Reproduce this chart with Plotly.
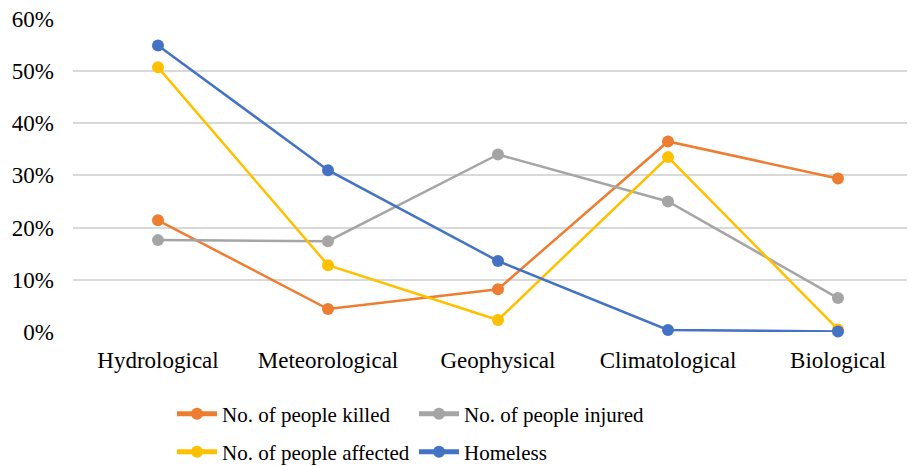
import plotly.graph_objects as go

categories = ['Hydrological', 'Meteorological', 'Geophysical', 'Climatological', 'Biological']
killed = [0.214, 0.044, 0.082, 0.365, 0.294]
injured = [0.176, 0.174, 0.340, 0.250, 0.065]
affected = [0.507, 0.128, 0.023, 0.335, 0.005]
homeless = [0.549, 0.310, 0.136, 0.004, 0.001]

series = [
    ('No. of people killed', killed, '#ED7D31', 'legend'),
    ('No. of people injured', injured, '#A5A5A5', 'legend'),
    ('No. of people affected', affected, '#FFC000', 'legend2'),
    ('Homeless', homeless, '#4472C4', 'legend2'),
]

font = 'Liberation Serif, Times New Roman, serif'

# page body has an 8px margin, so the figure is a bit smaller than the window
W, H = 907, 458

fig = go.Figure()
for name, vals, color, leg in series:
    fig.add_trace(go.Scatter(
        x=categories, y=vals, name=name, mode='lines+markers',
        line=dict(color=color, width=2.5),
        marker=dict(color=color, size=12),
        cliponaxis=False, legend=leg
    ))

legend_style = dict(
    orientation='h', xref='container', yref='container',
    yanchor='middle', xanchor='left',
    font=dict(family=font, size=21, color='#000000'),
    entrywidth=187, itemwidth=40, bgcolor='rgba(0,0,0,0)',
    tracegroupgap=0, itemsizing='constant'
)

fig.update_layout(
    width=W, height=H,
    margin=dict(l=65, r=0, t=10, b=134, autoexpand=False),
    paper_bgcolor='white', plot_bgcolor='white',
    font=dict(family=font, size=23, color='#000000'),
    xaxis=dict(
        type='category', range=[-0.5, 4.453], automargin=False,
        showgrid=False, showline=False, ticks='',
        ticklabelstandoff=12,
        tickfont=dict(family=font, size=23, color='#000000')
    ),
    yaxis=dict(
        range=[0, 0.6015], tickvals=[0, 0.1, 0.2, 0.3, 0.4, 0.5, 0.6],
        tickformat='.0%', automargin=False, ticklabeloverflow='allow',
        showgrid=True, gridcolor='#D9D9D9', gridwidth=1.5,
        zeroline=False, showline=False, ticks='',
        ticklabelstandoff=18,
        tickfont=dict(family=font, size=23, color='#000000')
    ),
    legend=dict(x=164 / W, y=(H - 406) / H, **legend_style),
    legend2=dict(x=164 / W, y=(H - 444) / H, **legend_style),
    showlegend=True
)

fig.write_html('out.html')
